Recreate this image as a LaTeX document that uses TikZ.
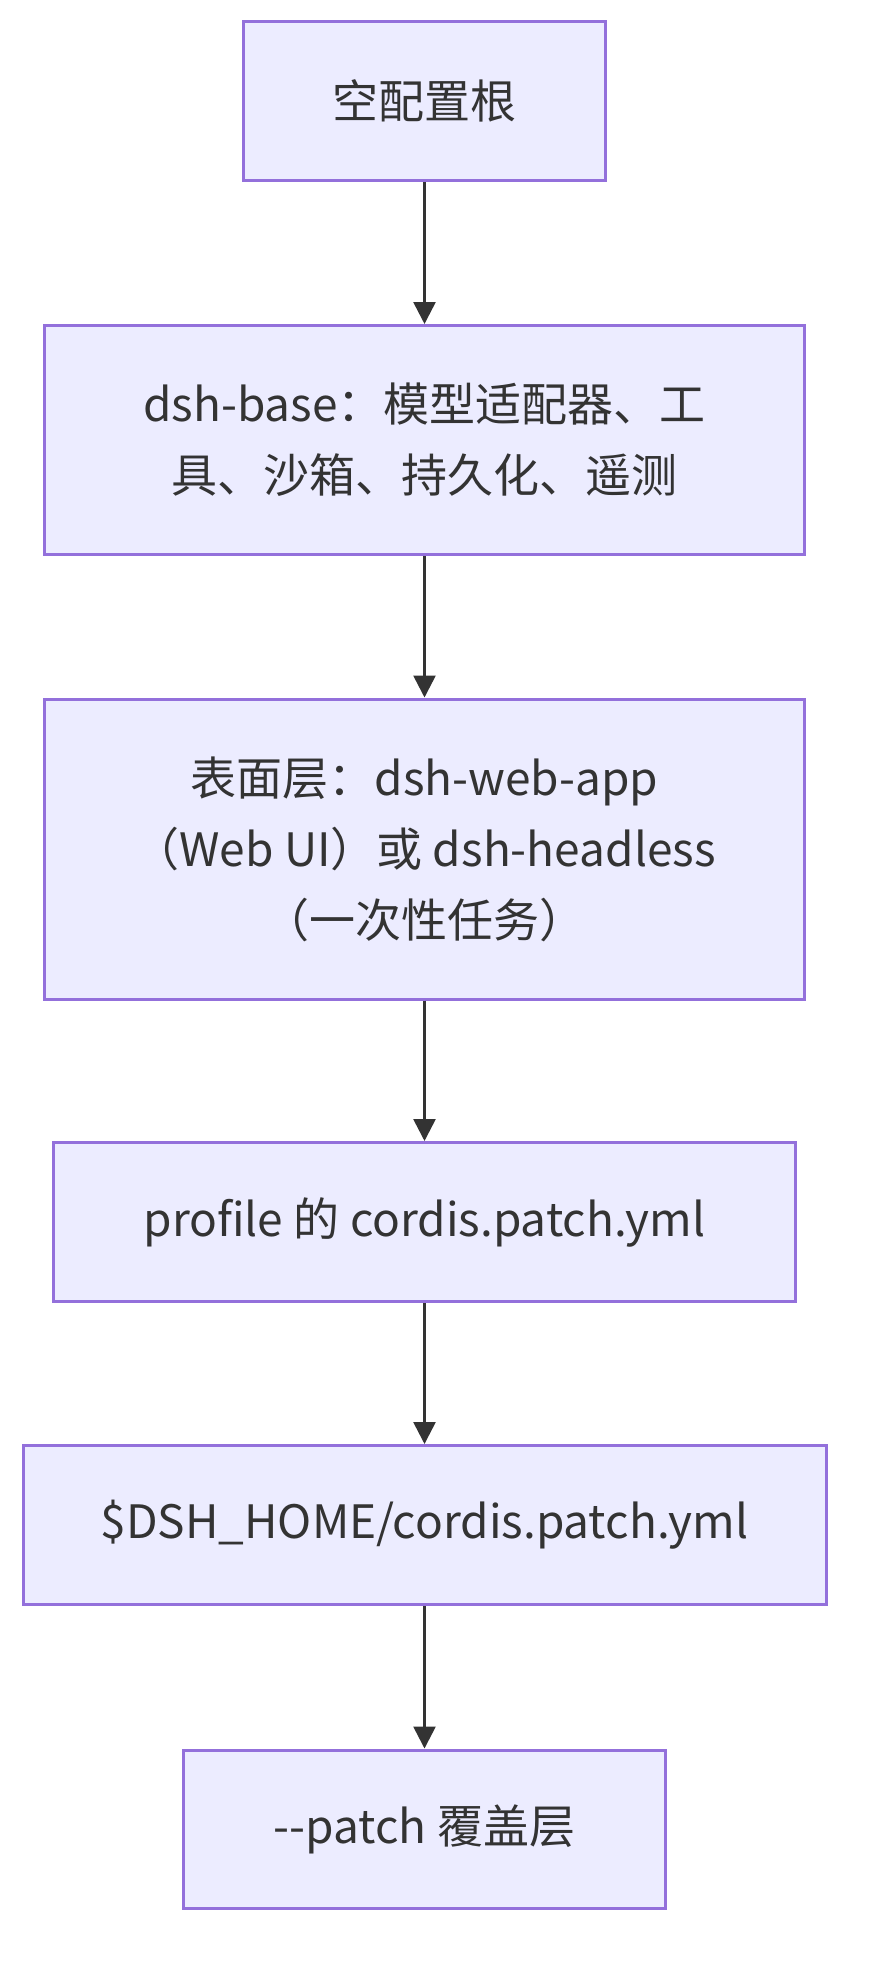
\documentclass[tikz,border=0pt]{standalone}
\usepackage{fontspec}
\setmainfont{Noto Sans CJK SC}
\usetikzlibrary{arrows.meta}
\definecolor{nodefill}{HTML}{ECECFF}
\definecolor{nodeline}{HTML}{9370DB}
\definecolor{edgeline}{HTML}{333333}

\begin{document}
\begin{tikzpicture}[x=0.5pt, y=-0.5pt,
	box/.style={draw=nodeline, fill=nodefill, line width=1.5pt, align=center, text=edgeline,
		inner sep=0pt, font=\fontsize{23pt}{35.5pt}\selectfont},
	flow/.style={-{Triangle[length=11pt,width=11pt]}, draw=edgeline, line width=1.3pt}]
	% Page size
	\useasboundingbox (0,0) rectangle (873,1986);

	% Nodes
	\node (root) at (424.5,101) [box, minimum width=181pt, minimum height=79.5pt] {空配置根};
	\node (base) at (424.5,440) [box, minimum width=380pt, minimum height=114.5pt] {dsh-base：模型适配器、工\\具、沙箱、持久化、遥测};
	\node (surface) at (424.5,849) [box, minimum width=380pt, minimum height=150pt] {表面层：dsh-web-app\\（Web UI）或 dsh-headless\\（一次性任务）};
	\node (profile) at (424.5,1222) [box, minimum width=371pt, minimum height=79.5pt] {profile 的 cordis.patch.yml};
	\node (home) at (424.5,1525) [box, minimum width=401.5pt, minimum height=79.5pt] {\$DSH\_HOME/cordis.patch.yml};
	\node (patch) at (424.5,1829) [box, minimum width=241pt, minimum height=79pt] {-{}-patch 覆盖层};

	% Edges
	\draw[flow] (root) -- (base);
	\draw[flow] (base) -- (surface);
	\draw[flow] (surface) -- (profile);
	\draw[flow] (profile) -- (home);
	\draw[flow] (home) -- (patch);

\end{tikzpicture}
\end{document}
